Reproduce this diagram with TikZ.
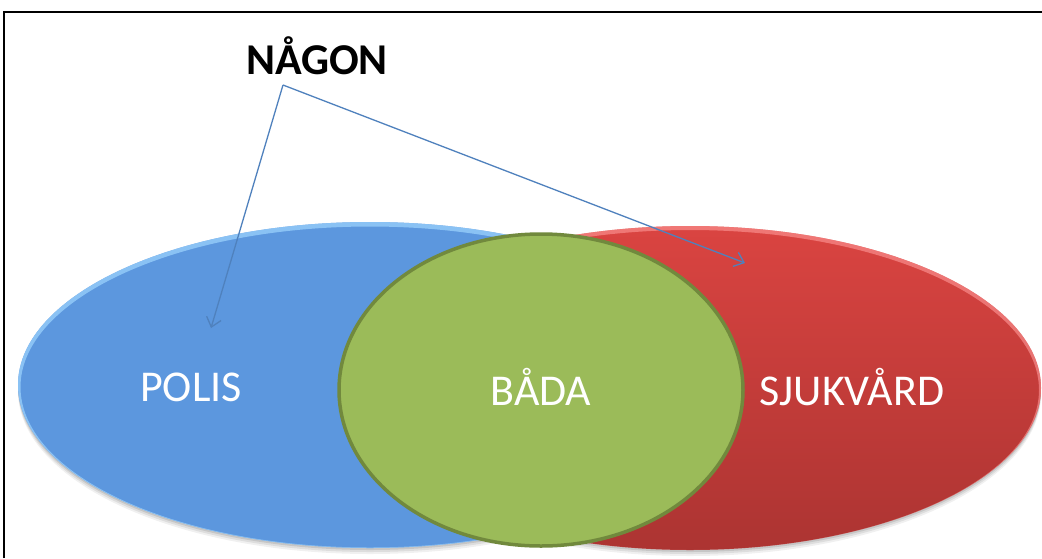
\documentclass[tikz,border=0pt]{standalone}
\usepackage{fontspec}
\setmainfont{Carlito}
\usetikzlibrary{arrows.meta}
\definecolor{polisblue}{RGB}{92,151,222}
\definecolor{polisrim}{RGB}{150,205,250}
\definecolor{vardred}{RGB}{218,68,65}
\definecolor{varddark}{RGB}{172,52,50}
\definecolor{badagreen}{RGB}{155,187,89}
\definecolor{badaedge}{RGB}{113,137,61}
\definecolor{pointer}{RGB}{79,129,189}
\tikzset{
  setlabel/.style={text=white, font=\fontsize{44}{48}\selectfont, inner sep=0pt},
  headlabel/.style={text=black, font=\bfseries\fontsize{44}{48}\selectfont, inner sep=0pt},
  pointerline/.style={draw=pointer, line width=1.3pt, -{Straight Barb[length=9pt,width=15pt,line width=1.3pt]}},
}
\begin{document}
\begin{tikzpicture}[x=1pt,y=-1pt]
  \useasboundingbox (0,0) rectangle (1042,558);
  \fill[white] (0,0) rectangle (1042,558);
  % frame
  \draw[black, line width=1.5pt] (4,558) -- (4,12) -- (1042,12);

  % soft shadows under both sets
  \foreach \o/\a in {6/0.06,4/0.08,2/0.10} {
    \fill[black, opacity=\a] (370,385+\o) ellipse [x radius=352, y radius=163];
    \fill[black, opacity=\a] (690,388+\o) ellipse [x radius=351, y radius=162];
  }

  % health-care set
  \shade[top color=vardred, bottom color=varddark] (690,388) ellipse [x radius=351, y radius=162];
  \begin{scope}
    \clip (690,388) ellipse [x radius=351, y radius=162];
    \draw[red!40!white, line width=4pt, opacity=0.6] (690,390) ellipse [x radius=351, y radius=162];
  \end{scope}

  % police set
  \fill[polisblue] (370,385) ellipse [x radius=352, y radius=163];
  \begin{scope}
    \clip (370,385) ellipse [x radius=352, y radius=163];
    \draw[polisrim, line width=5pt, opacity=0.8] (370,387) ellipse [x radius=352, y radius=163];
  \end{scope}

  % overlap
  \draw[fill=badagreen, draw=badaedge, line width=3.5pt] (541,390) ellipse [x radius=202, y radius=156];

  \node[setlabel] (polis) at (191,387) {POLIS};
  \node[setlabel] (bada) at (541,387) {BÅDA};
  \node[setlabel] (sjukvard) at (852,387) {SJUKVÅRD};

  \node[headlabel] (nagon) at (317,56) {NÅGON};
  \coordinate (fork) at (283,85);
  \coordinate (polispoint) at (211,328);
  \coordinate (vardpoint) at (745,263);
  \draw[pointerline] (fork) -- (polispoint);
  \draw[pointerline] (fork) -- (vardpoint);
\end{tikzpicture}
\end{document}
